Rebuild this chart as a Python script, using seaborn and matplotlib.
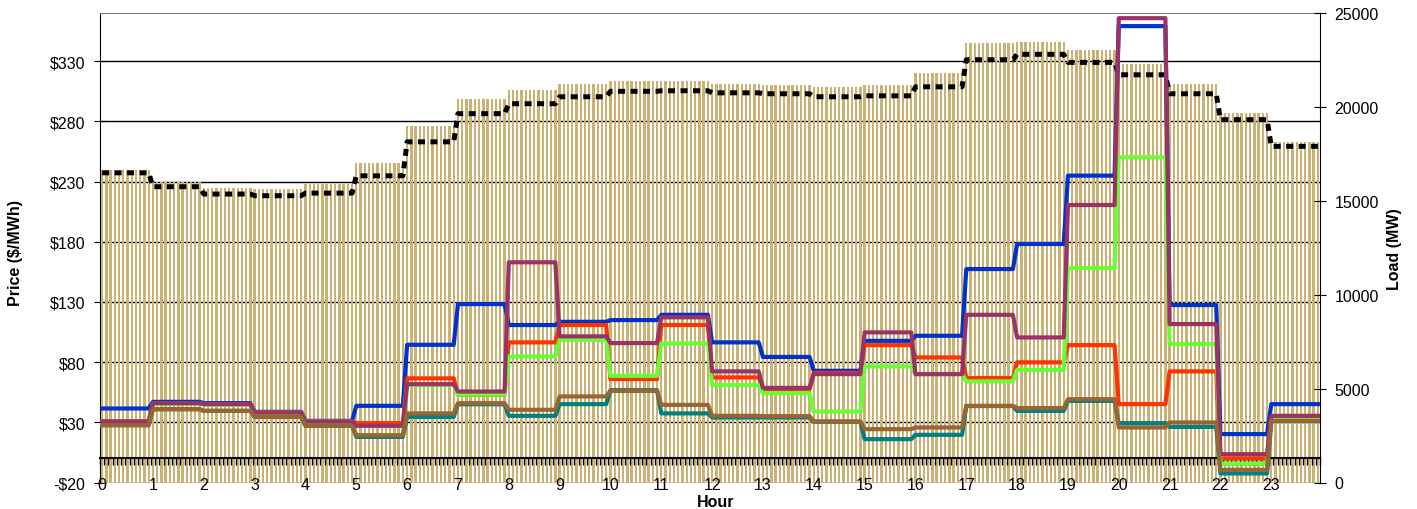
import numpy as np
import pandas as pd
import matplotlib
matplotlib.use('Agg')
import matplotlib.pyplot as plt
import seaborn as sns
from matplotlib.ticker import FuncFormatter

# hourly values (each hour is shown as 12 five-minute intervals)
hours = list(range(24))

load_bars = [16640, 16010, 15680, 15620, 15890, 17010, 18960, 20420, 20900, 21200,
             21380, 21380, 21200, 21160, 21040, 21160, 21800, 23400, 23450, 23030,
             22270, 21200, 19670, 18110]
load_dashed = [16490, 15750, 15360, 15270, 15410, 16330, 18140, 19640, 20170, 20540,
               20830, 20860, 20750, 20700, 20540, 20590, 21070, 22510, 22800, 22370,
               21710, 20700, 19320, 17900]

price_blue = [41.5, 47.0, 45.9, 38.7, 31.2, 43.7, 94.4, 128.2, 110.8, 113.5,
              114.9, 119.3, 96.4, 84.3, 72.8, 97.7, 101.9, 157.3, 178.1, 234.9,
              359.1, 127.4, 20.2, 45.1]
price_red = [30.7, 45.9, 45.1, 38.2, 30.7, 29.3, 66.5, 52.8, 96.4, 110.8,
             65.9, 110.8, 67.3, 57.5, 71.0, 94.1, 83.9, 66.7, 79.8, 94.1,
             45.1, 72.3, 0.0, 34.0]
price_green = [30.0, 45.5, 44.8, 38.0, 30.5, 19.0, 61.0, 53.0, 84.7, 98.5,
               68.6, 95.6, 60.9, 54.2, 39.0, 76.4, 70.0, 64.0, 73.6, 158.2,
               250.2, 95.0, -4.2, 33.0]
price_teal = [27.6, 40.9, 39.5, 34.5, 27.1, 17.9, 34.5, 45.0, 35.4, 45.1,
              56.7, 37.4, 34.0, 34.0, 30.5, 16.0, 19.6, 43.5, 39.5, 47.8,
              29.3, 26.2, -12.5, 31.0]
price_purple = [30.7, 45.9, 45.1, 38.2, 30.7, 27.1, 61.7, 55.6, 162.9, 101.4,
                95.8, 117.2, 72.3, 58.6, 70.0, 104.7, 70.0, 119.3, 100.5, 210.5,
                365.7, 111.6, 3.5, 35.4]
price_brown = [27.6, 40.9, 39.5, 34.5, 27.1, 19.3, 37.4, 45.9, 40.4, 51.5,
               56.1, 44.5, 35.4, 35.1, 30.7, 24.3, 25.7, 43.7, 41.8, 49.2,
               25.7, 29.9, -9.5, 31.2]

series_names = ['Case 1', 'Case 2', 'Case 3', 'Case 4', 'Case 5', 'Case 6']
series_colors = ['#0033CC', '#FF3300', '#66FF33', '#008080', '#993366', '#996633']

STEPS = 12  # five-minute intervals per hour


def main():
    plt.rcParams['font.family'] = ['Liberation Sans', 'DejaVu Sans']

    idx = np.arange(len(hours) * STEPS)
    bars = np.repeat(load_bars, STEPS)
    dashed = np.repeat(load_dashed, STEPS)

    prices = [price_blue, price_red, price_green, price_teal, price_purple, price_brown]
    df = pd.concat([
        pd.DataFrame({'idx': idx, 'price': np.repeat(p, STEPS), 'series': name})
        for name, p in zip(series_names, prices)
    ], ignore_index=True)

    fig = plt.figure(figsize=(14.17, 5.10), dpi=100)
    ax_grid = fig.add_subplot(111)
    fig.subplots_adjust(left=100 / 1417, right=1320 / 1417,
                        top=1 - 14 / 510, bottom=1 - 483.5 / 510)
    ax_load = ax_grid.twinx()
    ax_price = ax_grid.twinx()

    # load bars + dashed load line (right axis)
    sns.barplot(x=idx, y=bars, color='#CBB274', saturation=1, width=0.55,
                ax=ax_load)
    sns.lineplot(x=idx, y=dashed, ax=ax_load, color='black', lw=3.6,
                 linestyle=(0, (1.4, 1.1)))
    ax_load.set_ylim(0, 25000)
    ax_load.set_yticks(range(0, 25001, 5000))
    ax_load.tick_params(axis='y', direction='inout', length=9, labelsize=11.5,
                        pad=6)
    ax_load.set_ylabel('Load (MW)', fontsize=11.5, fontweight='bold')
    ax_load.yaxis.set_label_coords(1.055, 0.5)
    for s in ['top', 'bottom', 'left']:
        ax_load.spines[s].set_visible(False)
    ax_load.spines['right'].set_color('black')

    # price lines (left axis scale)
    sns.lineplot(data=df, x='idx', y='price', hue='series',
                 hue_order=series_names, palette=series_colors, lw=3,
                 legend=False, ax=ax_price)
    ax_price.set_ylim(-20, 370)
    ax_price.tick_params(axis='y', right=False, labelright=False)
    for s in ax_price.spines.values():
        s.set_visible(False)
    ax_price.set_ylabel('')

    # x axis labels drawn on the top layer
    ax_price.xaxis.set_visible(True)
    ax_price.set_xlim(-0.5, len(idx) - 0.5)
    ax_price.set_xticks(idx[::STEPS], labels=[str(h) for h in hours])
    ax_price.tick_params(axis='x', length=0, pad=-4, labelsize=11.5)
    ax_price.set_xlabel('Hour', fontsize=11.5, fontweight='bold')
    ax_price.xaxis.set_label_coords(0.505, -0.024)

    # category axis crossing at $0
    sec = ax_price.secondary_xaxis(20 / 390)
    sec.set_alignment('bottom')
    sec.set_xticks(np.arange(len(idx) + 1) - 0.5)
    sec.tick_params(axis='x', direction='out', length=5, width=1,
                    labelbottom=False, labeltop=False)
    sec.spines['bottom'].set_linewidth(1.5)

    # price axis with gridlines (bottom layer)
    ax_grid.set_ylim(-20, 370)
    ax_grid.set_yticks(range(-20, 331, 50))
    ax_grid.yaxis.set_major_formatter(
        FuncFormatter(lambda v, _: f'-${abs(v):.0f}' if v < 0 else f'${v:.0f}'))
    ax_grid.grid(axis='y', color='black', lw=1)
    ax_grid.tick_params(axis='y', direction='inout', length=9, labelsize=11.5,
                        pad=6)
    ax_grid.tick_params(axis='x', bottom=False, labelbottom=False)
    ax_grid.set_ylabel('Price ($/MWh)', fontsize=11.5, fontweight='bold')
    ax_grid.yaxis.set_label_coords(-0.063, 0.49)
    ax_grid.spines['bottom'].set_visible(False)
    ax_grid.spines['right'].set_visible(False)
    ax_grid.spines['top'].set_color('#808080')
    ax_grid.spines['left'].set_color('black')

    plt.savefig('out.png', dpi=100)


if __name__ == '__main__':
    main()
